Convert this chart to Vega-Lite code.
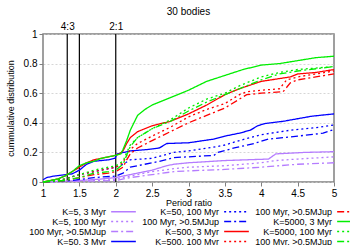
{
"$schema": "https://vega.github.io/schema/vega-lite/v6.json",
"width": 291, "height": 148,
"autosize": "none",
"padding": {"left": 43, "top": 34, "right": 16, "bottom": 63},
"config": {
  "font": "Liberation Sans",
  "view": {"stroke": "#808080", "strokeWidth": 1.5},
  "axis": {"labelFontSize": 10, "labelColor": "black", "titleColor": "black", "titleFontWeight": "normal", "domain": false, "tickColor": "#808080", "gridColor": "#cccccc", "gridDash": [2, 2], "gridWidth": 0.8}
},
"title": {"text": "30 bodies", "fontSize": 10, "fontWeight": "normal", "offset": 4},
"datasets": {
  "vlines": [{"r": 1.3333}, {"r": 1.5}, {"r": 2}],
  "cdf": [
    {"s":"p3","r":1,"v":0},{"s":"p3","r":1.5,"v":0.01},{"s":"p3","r":1.8,"v":0.02},{"s":"p3","r":2.0,"v":0.03},{"s":"p3","r":2.1,"v":0.04},{"s":"p3","r":2.3,"v":0.06},{"s":"p3","r":2.5,"v":0.08},{"s":"p3","r":2.7,"v":0.11},{"s":"p3","r":2.8,"v":0.12},{"s":"p3","r":3.0,"v":0.13},{"s":"p3","r":3.5,"v":0.145},{"s":"p3","r":4.1,"v":0.155},{"s":"p3","r":4.2,"v":0.19},{"s":"p3","r":4.6,"v":0.2},{"s":"p3","r":5,"v":0.205},
    {"s":"p100","r":1,"v":0},{"s":"p100","r":1.8,"v":0.01},{"s":"p100","r":2.0,"v":0.02},{"s":"p100","r":2.3,"v":0.05},{"s":"p100","r":2.5,"v":0.07},{"s":"p100","r":2.8,"v":0.09},{"s":"p100","r":3.0,"v":0.1},{"s":"p100","r":3.5,"v":0.11},{"s":"p100","r":4.0,"v":0.13},{"s":"p100","r":4.2,"v":0.145},{"s":"p100","r":4.5,"v":0.155},{"s":"p100","r":5,"v":0.17},
    {"s":"pJ","r":1,"v":0},{"s":"pJ","r":2.0,"v":0.01},{"s":"pJ","r":2.2,"v":0.03},{"s":"pJ","r":2.5,"v":0.05},{"s":"pJ","r":2.8,"v":0.07},{"s":"pJ","r":3.0,"v":0.075},{"s":"pJ","r":3.5,"v":0.085},{"s":"pJ","r":4.0,"v":0.1},{"s":"pJ","r":4.5,"v":0.12},{"s":"pJ","r":5,"v":0.13},
    {"s":"b3","r":1,"v":0.015},{"s":"b3","r":1.05,"v":0.03},{"s":"b3","r":1.15,"v":0.04},{"s":"b3","r":1.4,"v":0.055},{"s":"b3","r":1.5,"v":0.08},{"s":"b3","r":1.6,"v":0.12},{"s":"b3","r":1.7,"v":0.14},{"s":"b3","r":1.9,"v":0.15},{"s":"b3","r":1.99,"v":0.16},{"s":"b3","r":2.02,"v":0.19},{"s":"b3","r":2.2,"v":0.21},{"s":"b3","r":2.45,"v":0.22},{"s":"b3","r":2.6,"v":0.23},{"s":"b3","r":2.7,"v":0.26},{"s":"b3","r":3.0,"v":0.265},{"s":"b3","r":3.35,"v":0.29},{"s":"b3","r":3.5,"v":0.31},{"s":"b3","r":3.7,"v":0.33},{"s":"b3","r":3.85,"v":0.35},{"s":"b3","r":3.95,"v":0.38},{"s":"b3","r":4.05,"v":0.395},{"s":"b3","r":4.3,"v":0.41},{"s":"b3","r":4.7,"v":0.445},{"s":"b3","r":5,"v":0.46},
    {"s":"b100","r":1,"v":0},{"s":"b100","r":1.3,"v":0.02},{"s":"b100","r":1.5,"v":0.05},{"s":"b100","r":1.7,"v":0.07},{"s":"b100","r":1.9,"v":0.09},{"s":"b100","r":2.0,"v":0.1},{"s":"b100","r":2.1,"v":0.12},{"s":"b100","r":2.2,"v":0.15},{"s":"b100","r":2.5,"v":0.16},{"s":"b100","r":2.8,"v":0.2},{"s":"b100","r":3.0,"v":0.21},{"s":"b100","r":3.4,"v":0.24},{"s":"b100","r":3.5,"v":0.25},{"s":"b100","r":3.7,"v":0.28},{"s":"b100","r":4.0,"v":0.32},{"s":"b100","r":4.4,"v":0.35},{"s":"b100","r":4.8,"v":0.37},{"s":"b100","r":5,"v":0.385},
    {"s":"bJ","r":1,"v":0},{"s":"bJ","r":1.4,"v":0.01},{"s":"bJ","r":1.7,"v":0.03},{"s":"bJ","r":2.0,"v":0.04},{"s":"bJ","r":2.1,"v":0.06},{"s":"bJ","r":2.2,"v":0.1},{"s":"bJ","r":2.4,"v":0.12},{"s":"bJ","r":2.6,"v":0.14},{"s":"bJ","r":2.8,"v":0.165},{"s":"bJ","r":3.0,"v":0.17},{"s":"bJ","r":3.35,"v":0.18},{"s":"bJ","r":3.4,"v":0.2},{"s":"bJ","r":3.63,"v":0.23},{"s":"bJ","r":3.9,"v":0.26},{"s":"bJ","r":4.1,"v":0.29},{"s":"bJ","r":4.5,"v":0.31},{"s":"bJ","r":4.85,"v":0.33},{"s":"bJ","r":5,"v":0.355},
    {"s":"r3","r":1,"v":0},{"s":"r3","r":1.1,"v":0.01},{"s":"r3","r":1.2,"v":0.02},{"s":"r3","r":1.3,"v":0.04},{"s":"r3","r":1.4,"v":0.07},{"s":"r3","r":1.5,"v":0.1},{"s":"r3","r":1.6,"v":0.13},{"s":"r3","r":1.7,"v":0.15},{"s":"r3","r":1.8,"v":0.16},{"s":"r3","r":1.9,"v":0.17},{"s":"r3","r":2.0,"v":0.18},{"s":"r3","r":2.05,"v":0.19},{"s":"r3","r":2.1,"v":0.21},{"s":"r3","r":2.15,"v":0.26},{"s":"r3","r":2.2,"v":0.3},{"s":"r3","r":2.3,"v":0.34},{"s":"r3","r":2.5,"v":0.38},{"s":"r3","r":2.75,"v":0.41},{"s":"r3","r":3.0,"v":0.46},{"s":"r3","r":3.25,"v":0.52},{"s":"r3","r":3.5,"v":0.59},{"s":"r3","r":3.7,"v":0.63},{"s":"r3","r":4.0,"v":0.68},{"s":"r3","r":4.4,"v":0.71},{"s":"r3","r":4.5,"v":0.73},{"s":"r3","r":4.75,"v":0.74},{"s":"r3","r":5,"v":0.76},
    {"s":"r100","r":1,"v":0},{"s":"r100","r":1.3,"v":0.02},{"s":"r100","r":1.5,"v":0.05},{"s":"r100","r":1.7,"v":0.07},{"s":"r100","r":1.9,"v":0.09},{"s":"r100","r":2.0,"v":0.1},{"s":"r100","r":2.1,"v":0.13},{"s":"r100","r":2.15,"v":0.18},{"s":"r100","r":2.2,"v":0.22},{"s":"r100","r":2.3,"v":0.26},{"s":"r100","r":2.5,"v":0.31},{"s":"r100","r":2.75,"v":0.37},{"s":"r100","r":3.0,"v":0.44},{"s":"r100","r":3.25,"v":0.49},{"s":"r100","r":3.5,"v":0.53},{"s":"r100","r":3.7,"v":0.59},{"s":"r100","r":3.8,"v":0.61},{"s":"r100","r":4.0,"v":0.62},{"s":"r100","r":4.25,"v":0.63},{"s":"r100","r":4.35,"v":0.69},{"s":"r100","r":4.5,"v":0.71},{"s":"r100","r":4.75,"v":0.73},{"s":"r100","r":5,"v":0.75},
    {"s":"rJ","r":1,"v":0},{"s":"rJ","r":1.3,"v":0.01},{"s":"rJ","r":1.5,"v":0.03},{"s":"rJ","r":1.7,"v":0.05},{"s":"rJ","r":1.9,"v":0.06},{"s":"rJ","r":2.0,"v":0.07},{"s":"rJ","r":2.1,"v":0.1},{"s":"rJ","r":2.15,"v":0.15},{"s":"rJ","r":2.2,"v":0.19},{"s":"rJ","r":2.3,"v":0.23},{"s":"rJ","r":2.5,"v":0.28},{"s":"rJ","r":2.75,"v":0.34},{"s":"rJ","r":3.0,"v":0.4},{"s":"rJ","r":3.25,"v":0.45},{"s":"rJ","r":3.5,"v":0.5},{"s":"rJ","r":3.7,"v":0.56},{"s":"rJ","r":3.8,"v":0.59},{"s":"rJ","r":4.0,"v":0.6},{"s":"rJ","r":4.3,"v":0.61},{"s":"rJ","r":4.4,"v":0.67},{"s":"rJ","r":4.5,"v":0.69},{"s":"rJ","r":4.75,"v":0.71},{"s":"rJ","r":5,"v":0.73},
    {"s":"g3","r":1,"v":0},{"s":"g3","r":1.1,"v":0.01},{"s":"g3","r":1.2,"v":0.02},{"s":"g3","r":1.3,"v":0.04},{"s":"g3","r":1.4,"v":0.07},{"s":"g3","r":1.5,"v":0.11},{"s":"g3","r":1.6,"v":0.13},{"s":"g3","r":1.7,"v":0.14},{"s":"g3","r":1.8,"v":0.16},{"s":"g3","r":1.9,"v":0.17},{"s":"g3","r":2.0,"v":0.18},{"s":"g3","r":2.07,"v":0.19},{"s":"g3","r":2.1,"v":0.22},{"s":"g3","r":2.15,"v":0.28},{"s":"g3","r":2.2,"v":0.35},{"s":"g3","r":2.25,"v":0.4},{"s":"g3","r":2.3,"v":0.45},{"s":"g3","r":2.4,"v":0.49},{"s":"g3","r":2.5,"v":0.52},{"s":"g3","r":2.75,"v":0.57},{"s":"g3","r":3.0,"v":0.62},{"s":"g3","r":3.25,"v":0.68},{"s":"g3","r":3.5,"v":0.72},{"s":"g3","r":3.75,"v":0.76},{"s":"g3","r":4.0,"v":0.79},{"s":"g3","r":4.25,"v":0.8},{"s":"g3","r":4.5,"v":0.82},{"s":"g3","r":4.75,"v":0.84},{"s":"g3","r":5,"v":0.85},
    {"s":"g100","r":1,"v":0},{"s":"g100","r":1.3,"v":0.02},{"s":"g100","r":1.5,"v":0.05},{"s":"g100","r":1.7,"v":0.08},{"s":"g100","r":1.9,"v":0.1},{"s":"g100","r":2.0,"v":0.11},{"s":"g100","r":2.1,"v":0.14},{"s":"g100","r":2.15,"v":0.2},{"s":"g100","r":2.2,"v":0.25},{"s":"g100","r":2.3,"v":0.3},{"s":"g100","r":2.5,"v":0.36},{"s":"g100","r":2.75,"v":0.42},{"s":"g100","r":3.0,"v":0.5},{"s":"g100","r":3.25,"v":0.56},{"s":"g100","r":3.5,"v":0.6},{"s":"g100","r":3.7,"v":0.65},{"s":"g100","r":4.0,"v":0.71},{"s":"g100","r":4.25,"v":0.74},{"s":"g100","r":4.5,"v":0.76},{"s":"g100","r":5,"v":0.78},
    {"s":"gJ","r":1,"v":0},{"s":"gJ","r":1.3,"v":0.01},{"s":"gJ","r":1.5,"v":0.03},{"s":"gJ","r":1.7,"v":0.06},{"s":"gJ","r":1.9,"v":0.07},{"s":"gJ","r":2.0,"v":0.08},{"s":"gJ","r":2.1,"v":0.12},{"s":"gJ","r":2.15,"v":0.18},{"s":"gJ","r":2.2,"v":0.24},{"s":"gJ","r":2.3,"v":0.3},{"s":"gJ","r":2.5,"v":0.36},{"s":"gJ","r":2.75,"v":0.41},{"s":"gJ","r":3.0,"v":0.48},{"s":"gJ","r":3.25,"v":0.54},{"s":"gJ","r":3.5,"v":0.59},{"s":"gJ","r":3.7,"v":0.63},{"s":"gJ","r":4.0,"v":0.69},{"s":"gJ","r":4.25,"v":0.73},{"s":"gJ","r":4.5,"v":0.75},{"s":"gJ","r":5,"v":0.78}
  ]
},
"layer": [
  {
    "data": {"name": "vlines"},
    "mark": {"type": "rule", "color": "black", "strokeWidth": 1.2},
    "encoding": {
      "x": {"field": "r", "type": "quantitative", "scale": {"domain": [1, 5], "nice": false},
        "axis": {"orient": "top", "values": [1.3333, 1.5, 2], "labelExpr": "datum.value < 1.4 ? '4:3' : (datum.value < 1.7 ? '3:2' : '2:1')", "grid": false, "ticks": false, "labelPadding": 3, "title": null, "labelFlush": false}}
    }
  },
  {
    "data": {"name": "cdf"},
    "mark": {"type": "line", "strokeWidth": 1.3},
    "encoding": {
      "x": {"field": "r", "type": "quantitative", "scale": {"domain": [1, 5], "nice": false},
        "axis": {"values": [1, 1.5, 2, 2.5, 3, 3.5, 4, 4.5, 5], "format": "~g", "title": "Period ratio", "titleFontSize": 9, "titlePadding": 0, "tickSize": 4, "labelPadding": 2, "labelFlush": false}},
      "y": {"field": "v", "type": "quantitative", "scale": {"domain": [0, 1], "nice": false},
        "axis": {"values": [0, 0.2, 0.4, 0.6, 0.8, 1], "format": "~g", "title": "cummulative distribution", "titleFontSize": 9, "titlePadding": 8, "tickSize": 4, "labelPadding": 2}},
      "color": {"field": "s", "type": "nominal",
        "scale": {"domain": ["p3","p100","pJ","b3","b100","bJ","r3","r100","rJ","g3","g100","gJ"],
                  "range": ["#b57cff","#b57cff","#b57cff","#0000ff","#0000ff","#0000ff","#ff0000","#ff0000","#ff0000","#00ee00","#00ee00","#00ee00"]},
        "legend": {"orient": "none", "legendX": 76, "legendY": 173, "columns": 3, "title": null, "symbolType": "M-3.3,0H3.3", "symbolSize": 56, "symbolStrokeWidth": 1.5, "labelAlign": "right", "labelOffset": -22, "labelFontSize": 9, "rowPadding": 0, "columnPadding": 3,
          "labelExpr": "{'p3':'K=5, 3 Myr','p100':'K=5, 100 Myr','pJ':'100 Myr, >0.5MJup','b3':'K=50, 3 Myr','b100':'K=50, 100 Myr','bJ':'100 Myr, >0.5MJup','r3':'K=500, 3 Myr','r100':'K=500, 100 Myr','rJ':'100 Myr, >0.5MJup','g3':'K=5000, 3 Myr','g100':'K=5000, 100 Myr','gJ':'100 Myr, >0.5MJup'}[datum.value]"}},
      "strokeDash": {"field": "s", "type": "nominal",
        "scale": {"domain": ["p3","p100","pJ","b3","b100","bJ","r3","r100","rJ","g3","g100","gJ"],
                  "range": [[1,0],[2,3],[7,3,2,3],[1,0],[2,3],[7,3,2,3],[1,0],[2,3],[7,3,2,3],[1,0],[2,3],[7,3,2,3]]}}
    }
  }
],
"resolve": {"axis": {"x": "independent"}}
}
